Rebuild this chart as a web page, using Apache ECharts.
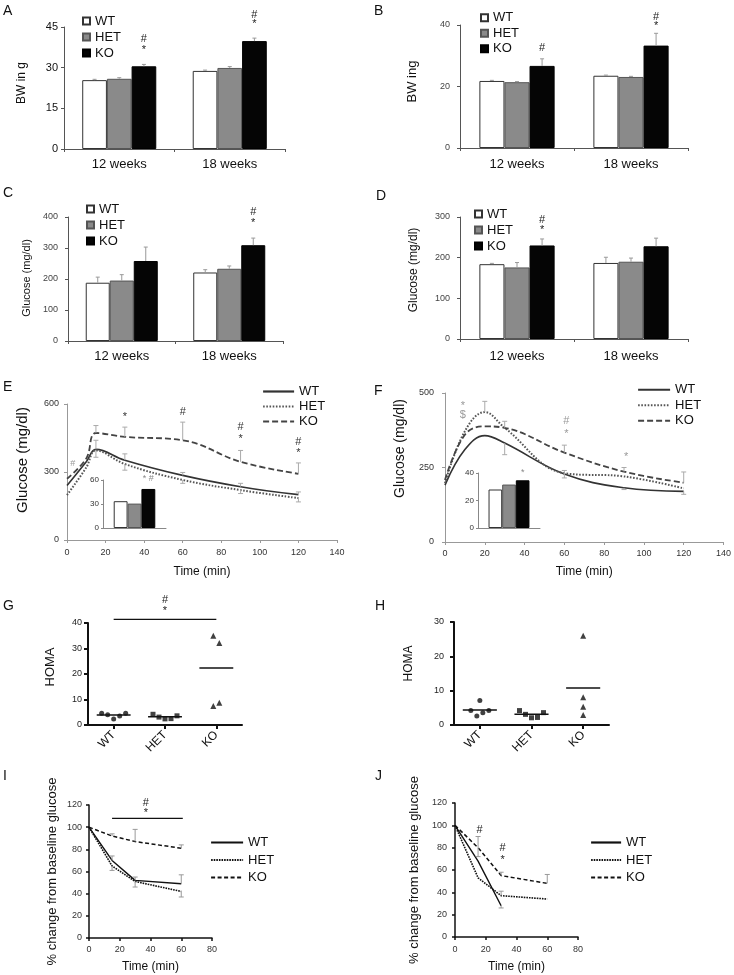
<!DOCTYPE html>
<html><head><meta charset="utf-8">
<script src="https://cdn.jsdelivr.net/npm/echarts@6/dist/echarts.min.js"></script>
<style>html,body{margin:0;padding:0;background:#fff}#c{width:734px;height:975px}</style>
</head><body><div id="c"></div>
<script>
// ================= DATA =================
const groups = ['WT', 'HET', 'KO'];
const weeks = ['12 weeks', '18 weeks'];

// A: body weight (g)
const aWT = [25.4, 28.8], aHET = [25.9, 29.9], aKO = [30.5, 39.8];
const aWTtop = [25.7, 29.1], aHETtop = [26.3, 30.4], aKOtop = [31.2, 40.9];
const aSig = [['12 weeks', 'KO', 36.4, '*'], ['12 weeks', 'KO', 40.5, '#'], ['18 weeks', 'KO', 46.2, '*'], ['18 weeks', 'KO', 49.6, '#']];
const aTicks = [0, 45, 15];

// B: body weight (g)
const bWT = [21.8, 23.5], bHET = [21.4, 23.1], bKO = [26.7, 33.3];
const bWTtop = [22.0, 23.7], bHETtop = [21.6, 23.3], bKOtop = [29.0, 37.3];
const bSig = [['12 weeks', 'KO', 32.4, '#'], ['18 weeks', 'KO', 39.7, '*'], ['18 weeks', 'KO', 42.5, '#']];
const bTicks = [0, 40, 20];

// C: glucose (mg/dl)
const cWT = [188, 221], cHET = [195, 233], cKO = [258, 309];
const cWTtop = [206, 230], cHETtop = [214, 242], cKOtop = [303, 332];
const cSig = [['18 weeks', 'KO', 381, '*'], ['18 weeks', 'KO', 416, '#']];
const cTicks = [0, 400, 100];

// D: glucose (mg/dl)
const dWT = [184, 187], dHET = [176, 190], dKO = [230, 228];
const dWTtop = [186, 201], dHETtop = [188, 199], dKOtop = [246, 248];
const dSig = [['12 weeks', 'KO', 269, '*'], ['12 weeks', 'KO', 292, '#']];
const dTicks = [0, 300, 100];

// E: GTT glucose (mg/dl) vs time (min)
const eTime = [0, 10, 15, 30, 60, 90, 120];
const eWT = [240, 345, 400, 352, 285, 235, 200];
const eHET = [198, 320, 395, 335, 265, 220, 185];
const eKO = [270, 360, 472, 455, 440, 345, 292];
const eWTerr = [[15, 440], [30, 380], [60, 298], [90, 250], [120, 212]];
const eHETerr = [[15, 365], [30, 308], [60, 250], [90, 205], [120, 168]];
const eKOerr = [[15, 505], [30, 498], [60, 520], [90, 395], [120, 340]];
const eSig = [[30, 542, '*'], [60, 563, '#'], [90, 498, '#'], [90, 447, '*'], [120, 432, '#'], [120, 384, '*']];
const eSigGray = [[3, 337, '#']];
const eInset = [33.5, 30.5, 48.8];
const eInsetSig = [62, '* #'];
const eTicks = [0, 600, 300];
const eInsetTicks = [0, 60, 30];

// F: GTT glucose (mg/dl) vs time (min)
const fTime = [0, 10, 20, 30, 60, 90, 120];
const fWT = [191, 310, 357, 332, 228, 182, 170];
const fHET = [197, 372, 436, 383, 231, 220, 180];
const fKO = [208, 360, 388, 383, 300, 236, 199];
const fWTerr = [[30, 293], [60, 240], [90, 176], [120, 160]];
const fHETerr = [[20, 472], [30, 405], [60, 215]];
const fKOerr = [[60, 325], [90, 250], [120, 235]];
const fSig = [[9, 456, '*'], [9, 425, '$'], [61, 405, '#'], [61, 364, '*'], [91, 287, '*']];
const fInset = [28, 31.6, 34.7];
const fInsetSig = [40.7, '*'];
const fTicks = [0, 500, 250];
const fInsetTicks = [0, 40, 20];
const timeTicks = [0, 140, 20];

// G / H: HOMA individual values and group means
const gWT = [4.6, 4.0, 2.4, 3.5, 4.6];
const gHET = [4.2, 3.1, 2.4, 2.5, 3.6];
const gKO = [35, 32.2, 7.5, 8.7];
const gMean = [3.9, 3.2, 22.4];
const gSigLine = [0, 2, 41.4];
const gSig = [[1, 44.9, '*'], [1, 49.2, '#']];
const hWT = [7.1, 4.2, 2.6, 3.6, 4.2];
const hHET = [4.2, 3.1, 2.1, 2.2, 3.6];
const hKO = [26, 8.1, 5.3, 2.9];
const hMean = [4.4, 3.1, 10.8];

// I / J: % change from baseline glucose (ITT)
const iTime = [0, 15, 30, 60];
const iWT = [100, 70, 52, 49];
const iHET = [100, 65, 51, 42];
const iKO = [100, 92, 87, 81];
const iWTerr = [[15, 74], [30, 55], [60, 57]];
const iHETerr = [[15, 61], [30, 46], [60, 37]];
const iKOerr = [[15, 94], [30, 98], [60, 84]];
const iSigLine = [15, 61, 108];
const iSig = [[37, 113, '*'], [37, 121.5, '#']];
const jTime = [0, 15, 30, 60];
const jWT = [100, 68, 28];
const jHET = [100, 53, 37, 34];
const jKO = [100, 80, 55, 48];
const jWTerr = [[30, 28, 26]];
const jHETerr = [[30, 37, 41]];
const jKOerr = [[15, 80, 90], [15, 80, 72], [30, 55, 58], [60, 48, 56]];
const jSig = [[16, 96, '#'], [31, 80, '#'], [31, 69, '*']];
const ittX = [0, 80, 20], ittY = [0, 120, 20];

// ================= BUILD =================
const FONT = '"Liberation Sans", Arial, Helvetica, sans-serif';
const grid = [], xAxis = [], yAxis = [], series = [], legend = [], title = [];
const BAR_STYLE = [
  {color: '#ffffff', borderColor: '#333', borderWidth: 1},
  {color: '#8a8a8a', borderColor: '#555', borderWidth: 1},
  {color: '#050505', borderColor: '#000', borderWidth: 1}
];
function addGrid(box, xa, ya) {
  const i = grid.length;
  grid.push(Object.assign({show: false}, box));
  xa.gridIndex = i; ya.gridIndex = i;
  xAxis.push(xa); yAxis.push(ya);
  return i;
}
function ax(i) { return {xAxisIndex: i, yAxisIndex: i}; }
function seg(x1, y1, x2, y2, c, w) { return {type: 'line', shape: {x1, y1, x2, y2}, style: {stroke: c, lineWidth: w || 1}}; }
function nameStyle(size, shift) { return {fontSize: size, color: '#111', fontFamily: FONT, padding: [0, 0, 0, 2 * shift]}; }

function textMarks(gi, items, opt) {
  series.push(Object.assign({
    type: 'custom', clip: false, silent: true, z: 8,
    data: items.map(d => [d[0], d[1]]),
    renderItem: (params, api) => {
      const d = items[params.dataIndex];
      const p = api.coord([api.value(0), api.value(1)]);
      let dx = 0;
      if (opt.gap != null && d[3] != null) dx = (d[3] - 1) * api.size([1, 0])[0] * (1 - opt.gap) / 3;
      return {type: 'text', x: p[0] + dx, y: p[1],
        style: {text: d[2], fill: opt.color, fontSize: opt.size, fontFamily: FONT, align: 'center', verticalAlign: 'middle'}};
    }
  }, ax(gi)));
}
function errorBars(gi, data, color) {
  series.push(Object.assign({
    type: 'custom', clip: false, silent: true, z: 3, data,
    renderItem: (params, api) => {
      const a = api.coord([api.value(0), api.value(1)]);
      const b = api.coord([api.value(0), api.value(2)]);
      return {type: 'group', children: [seg(a[0], a[1], b[0], b[1], color), seg(b[0] - 2.5, b[1], b[0] + 2.5, b[1], color)]};
    }
  }, ax(gi)));
}
function hLine(gi, data, color, w) {
  series.push(Object.assign({
    type: 'custom', clip: false, silent: true, z: 5, data: [data],
    renderItem: (params, api) => {
      const a = api.coord([api.value(0), api.value(2)]);
      const b = api.coord([api.value(1), api.value(2)]);
      return seg(a[0], a[1], b[0], b[1], color, w);
    }
  }, ax(gi)));
}

function barPanel(p) {
  const gi = addGrid(p.box,
    {type: 'category', data: weeks,
      axisLine: {lineStyle: {color: '#555'}},
      axisTick: {show: true, length: 3, lineStyle: {color: '#555'}},
      axisLabel: {fontSize: 13, color: '#111', margin: p.catMargin, fontFamily: FONT}},
    {type: 'value', min: p.ticks[0], max: p.ticks[1], interval: p.ticks[2],
      name: p.yName, nameLocation: 'middle', nameGap: p.nameGap, nameTextStyle: nameStyle(p.nameSize, p.nameShift),
      axisLine: {show: true, lineStyle: {color: '#555'}},
      axisTick: {show: true, length: 3, lineStyle: {color: '#555'}},
      axisLabel: {fontSize: p.tickSize, color: p.tickColor, margin: p.tickMargin, fontFamily: FONT},
      splitLine: {show: false}});
  const gap = p.gap;
  groups.forEach((g, s) => series.push(Object.assign({
    type: 'bar', name: p.id + '|' + g, data: p.vals[s], barGap: '0%', barCategoryGap: (gap * 100) + '%',
    itemStyle: BAR_STYLE[s], silent: true, z: 2
  }, ax(gi))));
  const err = [];
  groups.forEach((g, s) => p.vals[s].forEach((v, c) => err.push([c, v, p.tops[s][c], s])));
  series.push(Object.assign({
    type: 'custom', clip: false, silent: true, z: 3, data: err,
    renderItem: (params, api) => {
      const bw = api.size([1, 0])[0] * (1 - gap) / 3;
      const a = api.coord([api.value(0), api.value(1)]), b = api.coord([api.value(0), api.value(2)]);
      const x = a[0] + (api.value(3) - 1) * bw;
      return {type: 'group', children: [seg(x, a[1], x, b[1], '#999'), seg(x - 2, b[1], x + 2, b[1], '#999')]};
    }
  }, ax(gi)));
  textMarks(gi, p.sig.map(d => [weeks.indexOf(d[0]), d[2], d[3], groups.indexOf(d[1])]), {gap, color: '#222', size: 11});
  legend.push({orient: 'vertical', left: p.leg[0], top: p.leg[1], padding: 0, itemGap: 0,
    data: groups.map(g => p.id + '|' + g), formatter: n => n.split('|')[1],
    icon: 'rect', itemWidth: 7, itemHeight: 7, selectedMode: false,
    textStyle: {fontSize: 13, color: '#111', fontFamily: FONT, lineHeight: p.leg[2]}});
}

const LINE_STYLES = [
  {color: '#333', width: 1.6, type: 'solid'},
  {color: '#555', width: 2, type: [1.6, 1.6]},
  {color: '#444', width: 1.8, type: [6, 3]}
];
const ITT_STYLES = [
  {color: '#111', width: 1.4, type: 'solid'},
  {color: '#111', width: 1.6, type: [1.6, 1]},
  {color: '#111', width: 1.5, type: [4, 2.5]}
];
function linePanel(p) {
  const gi = addGrid(p.box,
    {type: 'value', min: p.x[0], max: p.x[1], interval: p.x[2],
      name: 'Time (min)', nameLocation: 'middle', nameGap: p.xNameGap,
      nameTextStyle: {fontSize: 12, color: '#111', fontFamily: FONT},
      axisLine: {lineStyle: {color: p.axisColor, width: p.axisWidth}},
      axisTick: {show: true, length: 3, lineStyle: {color: p.axisColor, width: p.axisWidth}},
      axisLabel: {fontSize: 9, color: '#333', margin: p.xLabelMargin, fontFamily: FONT},
      splitLine: {show: false}},
    {type: 'value', min: p.y[0], max: p.y[1], interval: p.y[2],
      name: p.yName, nameLocation: 'middle', nameGap: p.nameGap, nameTextStyle: nameStyle(p.nameSize, p.nameShift),
      axisLine: {show: true, lineStyle: {color: p.axisColor, width: p.axisWidth}},
      axisTick: {show: true, length: 3, lineStyle: {color: p.axisColor, width: p.axisWidth}},
      axisLabel: {fontSize: 9, color: '#333', margin: p.yLabelMargin, fontFamily: FONT},
      splitLine: {show: false}});
  groups.forEach((g, s) => {
    const st = p.styles[s];
    series.push(Object.assign({
      type: 'line', name: p.id + '|' + g, data: p.vals[s].map((v, k) => [p.times[k], v]),
      smooth: p.smooth, symbol: 'none', lineStyle: st, itemStyle: {color: st.color}, silent: true, z: 2
    }, ax(gi)));
  });
  const err = [];
  groups.forEach((g, s) => p.errs[s].forEach(e => {
    const from = e.length === 3 ? e[1] : p.vals[s][p.times.indexOf(e[0])];
    err.push([e[0], from, e[e.length - 1]]);
  }));
  errorBars(gi, err, p.errColor);
  textMarks(gi, p.sig, {color: p.sigColor, size: 11});
  if (p.sigGray) textMarks(gi, p.sigGray, {color: '#999', size: 9});
  if (p.sigLine) hLine(gi, p.sigLine, '#111', 1.2);
  legend.push({orient: 'vertical', left: p.leg[0], top: p.leg[1], padding: 0, itemGap: p.leg[3],
    data: groups.map(g => p.id + '|' + g), formatter: n => n.split('|')[1],
    itemWidth: p.leg[2], itemHeight: 10, selectedMode: false,
    itemStyle: {opacity: 0}, lineStyle: {width: 2.2},
    textStyle: {fontSize: 13, color: '#111', fontFamily: FONT, lineHeight: p.leg[4]}});
  return gi;
}

function insetPanel(p) {
  const gi = addGrid(p.box,
    {type: 'category', data: [''], axisLine: {lineStyle: {color: '#888'}}, axisTick: {show: false}, axisLabel: {show: false}},
    {type: 'value', min: p.ticks[0], max: p.ticks[1], interval: p.ticks[2],
      axisLine: {show: true, lineStyle: {color: '#888'}},
      axisTick: {show: true, length: 2, lineStyle: {color: '#888'}},
      axisLabel: {fontSize: 8, color: '#333', margin: 4, fontFamily: FONT},
      splitLine: {show: false}});
  groups.forEach((g, s) => series.push(Object.assign({
    type: 'bar', data: [p.vals[s]], barGap: '0%', barCategoryGap: '34%', itemStyle: BAR_STYLE[s], silent: true, z: 4
  }, ax(gi))));
  textMarks(gi, [[0, p.sig[0], p.sig[1], 2]], {gap: 0.34, color: '#888', size: 9});
}

// spread points whose values lie close together; keep listing order inside a cluster
function jitter(vals, thr, step) {
  const idx = vals.map((v, i) => i).sort((a, b) => vals[a] - vals[b]);
  const offs = new Array(vals.length).fill(0);
  let cluster = [idx[0]];
  const flush = () => {
    cluster.sort((a, b) => a - b).forEach((id, k) => { offs[id] = (k - (cluster.length - 1) / 2) * step; });
  };
  for (let k = 1; k < idx.length; k++) {
    if (vals[idx[k]] - vals[idx[k - 1]] < thr) cluster.push(idx[k]);
    else { flush(); cluster = [idx[k]]; }
  }
  flush();
  return offs;
}
function dotPanel(p) {
  const gi = addGrid(p.box,
    {type: 'category', data: groups,
      axisLine: {lineStyle: {color: '#111', width: 2}},
      axisTick: {show: true, alignWithLabel: true, length: 4, lineStyle: {color: '#111', width: 2}},
      axisLabel: {rotate: 45, fontSize: 12, color: '#111', margin: 8, fontFamily: FONT}},
    {type: 'value', min: 0, max: p.max, interval: 10,
      name: 'HOMA', nameLocation: 'middle', nameGap: p.nameGap, nameTextStyle: nameStyle(p.nameSize, p.nameShift),
      axisLine: {show: true, lineStyle: {color: '#111', width: 2}},
      axisTick: {show: true, length: 4, lineStyle: {color: '#111', width: 2}},
      axisLabel: {fontSize: 9, color: '#222', margin: p.tickMargin, fontFamily: FONT},
      splitLine: {show: false}});
  const syms = ['circle', 'rect', 'triangle'], sizes = [5, 5, 6];
  p.pts.forEach((arr, c) => {
    const offs = jitter(arr, p.max * 0.075, 6);
    series.push(Object.assign({
      type: 'scatter', symbol: syms[c], symbolSize: sizes[c], itemStyle: {color: '#111'}, silent: true, z: 4, clip: false,
      data: arr.map((v, j) => ({value: [c, v], symbolOffset: [offs[j], 0]}))
    }, ax(gi)));
  });
  series.push(Object.assign({
    type: 'custom', clip: false, silent: true, z: 5, data: p.means.map((m, c) => [c, m]),
    renderItem: (params, api) => {
      const pt = api.coord([api.value(0), api.value(1)]);
      const half = api.size([1, 0])[0] * 0.33;
      return seg(pt[0] - half, pt[1], pt[0] + half, pt[1], '#111', 1.5);
    }
  }, ax(gi)));
  if (p.sigLine) hLine(gi, p.sigLine, '#111', 1.3);
  if (p.sig) textMarks(gi, p.sig, {color: '#222', size: 11});
}

// ----- panels -----
barPanel({id: 'A', box: {left: 64, top: 27, width: 221, height: 122}, ticks: aTicks,
  vals: [aWT, aHET, aKO], tops: [aWTtop, aHETtop, aKOtop], sig: aSig, gap: 0.33,
  yName: 'BW in g', nameGap: 36, nameSize: 12, nameShift: 5,
  tickSize: 11, tickColor: '#111', tickMargin: 6, catMargin: 9, leg: [82, 13, 16]});
barPanel({id: 'B', box: {left: 460, top: 25, width: 228, height: 123}, ticks: bTicks,
  vals: [bWT, bHET, bKO], tops: [bWTtop, bHETtop, bKOtop], sig: bSig, gap: 0.34,
  yName: 'BW ing', nameGap: 41, nameSize: 13, nameShift: 5,
  tickSize: 9, tickColor: '#444', tickMargin: 10, catMargin: 10, leg: [480, 10, 15.5]});
barPanel({id: 'C', box: {left: 68, top: 217, width: 215, height: 124}, ticks: cTicks,
  vals: [cWT, cHET, cKO], tops: [cWTtop, cHETtop, cKOtop], sig: cSig, gap: 0.33,
  yName: 'Glucose (mg/dl)', nameGap: 36, nameSize: 11, nameShift: 1,
  tickSize: 9, tickColor: '#444', tickMargin: 10, catMargin: 9, leg: [86, 201, 16]});
barPanel({id: 'D', box: {left: 460, top: 217, width: 228, height: 122}, ticks: dTicks,
  vals: [dWT, dHET, dKO], tops: [dWTtop, dHETtop, dKOtop], sig: dSig, gap: 0.34,
  yName: 'Glucose (mg/dl)', nameGap: 40, nameSize: 12, nameShift: 8,
  tickSize: 9, tickColor: '#444', tickMargin: 10, catMargin: 11, leg: [474, 206, 16]});

linePanel({id: 'E', box: {left: 67, top: 404, width: 270, height: 136}, x: timeTicks, y: eTicks,
  times: eTime, vals: [eWT, eHET, eKO], errs: [eWTerr, eHETerr, eKOerr], smooth: 0.4, styles: LINE_STYLES,
  sig: eSig, sigColor: '#333', sigGray: eSigGray, errColor: '#aaa', axisColor: '#999', axisWidth: 1,
  yName: 'Glucose (mg/dl)', nameGap: 37, nameSize: 15, nameShift: 12,
  xNameGap: 26, xLabelMargin: 8, yLabelMargin: 8, leg: [262, 384, 31, 0, 15]});
insetPanel({box: {left: 103, top: 480, width: 63, height: 48}, ticks: eInsetTicks, vals: eInset, sig: eInsetSig});

linePanel({id: 'F', box: {left: 445, top: 393, width: 282, height: 149}, x: timeTicks, y: fTicks,
  times: fTime, vals: [fWT, fHET, fKO], errs: [fWTerr, fHETerr, fKOerr], smooth: 0.4, styles: LINE_STYLES,
  sig: fSig, sigColor: '#999', errColor: '#aaa', axisColor: '#999', axisWidth: 1,
  yName: 'Glucose (mg/dl)', nameGap: 38, nameSize: 14, nameShift: 19,
  xNameGap: 24, xLabelMargin: 7, yLabelMargin: 11, leg: [637, 382, 32, 0, 15.5]});
insetPanel({box: {left: 478, top: 473, width: 62, height: 55}, ticks: fInsetTicks, vals: fInset, sig: fInsetSig});

dotPanel({box: {left: 88, top: 623, width: 154, height: 102}, max: 40, pts: [gWT, gHET, gKO], means: gMean,
  sigLine: gSigLine, sig: gSig, nameGap: 31, nameSize: 13, nameShift: 7, tickMargin: 6});
dotPanel({box: {left: 454, top: 622, width: 155, height: 103}, max: 30, pts: [hWT, hHET, hKO], means: hMean,
  nameGap: 39, nameSize: 12, nameShift: 10, tickMargin: 10});

linePanel({id: 'I', box: {left: 89, top: 805, width: 123, height: 133}, x: ittX, y: ittY,
  times: iTime, vals: [iWT, iHET, iKO], errs: [iWTerr, iHETerr, iKOerr], smooth: false, styles: ITT_STYLES,
  sig: iSig, sigColor: '#222', sigLine: iSigLine, errColor: '#999', axisColor: '#111', axisWidth: 1.5,
  yName: '% change from baseline glucose', nameGap: 30, nameSize: 13, nameShift: 0,
  xNameGap: 23, xLabelMargin: 7, yLabelMargin: 7, leg: [210, 835, 32, 2.5, 15]});
linePanel({id: 'J', box: {left: 455, top: 803, width: 123, height: 134}, x: ittX, y: ittY,
  times: jTime, vals: [jWT, jHET, jKO], errs: [jWTerr, jHETerr, jKOerr], smooth: false, styles: ITT_STYLES,
  sig: jSig, sigColor: '#222', errColor: '#999', axisColor: '#111', axisWidth: 1.5,
  yName: '% change from baseline glucose', nameGap: 34, nameSize: 13, nameShift: 0,
  xNameGap: 24, xLabelMargin: 8, yLabelMargin: 8, leg: [590, 835, 30, 2.5, 15]});

// panel letters
[['A', 3, 4], ['B', 374, 4], ['C', 3, 186], ['D', 376, 189], ['E', 3, 380], ['F', 374, 384],
 ['G', 3, 599], ['H', 375, 599], ['I', 3, 769], ['J', 375, 769]].forEach(l => title.push({
  text: l[0], left: l[1], top: l[2], padding: 0,
  textStyle: {fontSize: 14, fontWeight: 'normal', color: '#111', fontFamily: FONT}}));

const chart = echarts.init(document.getElementById('c'));
chart.setOption({animation: false, backgroundColor: '#fff', textStyle: {fontFamily: FONT},
  title, grid, xAxis, yAxis, series, legend});
</script>
</body></html>
